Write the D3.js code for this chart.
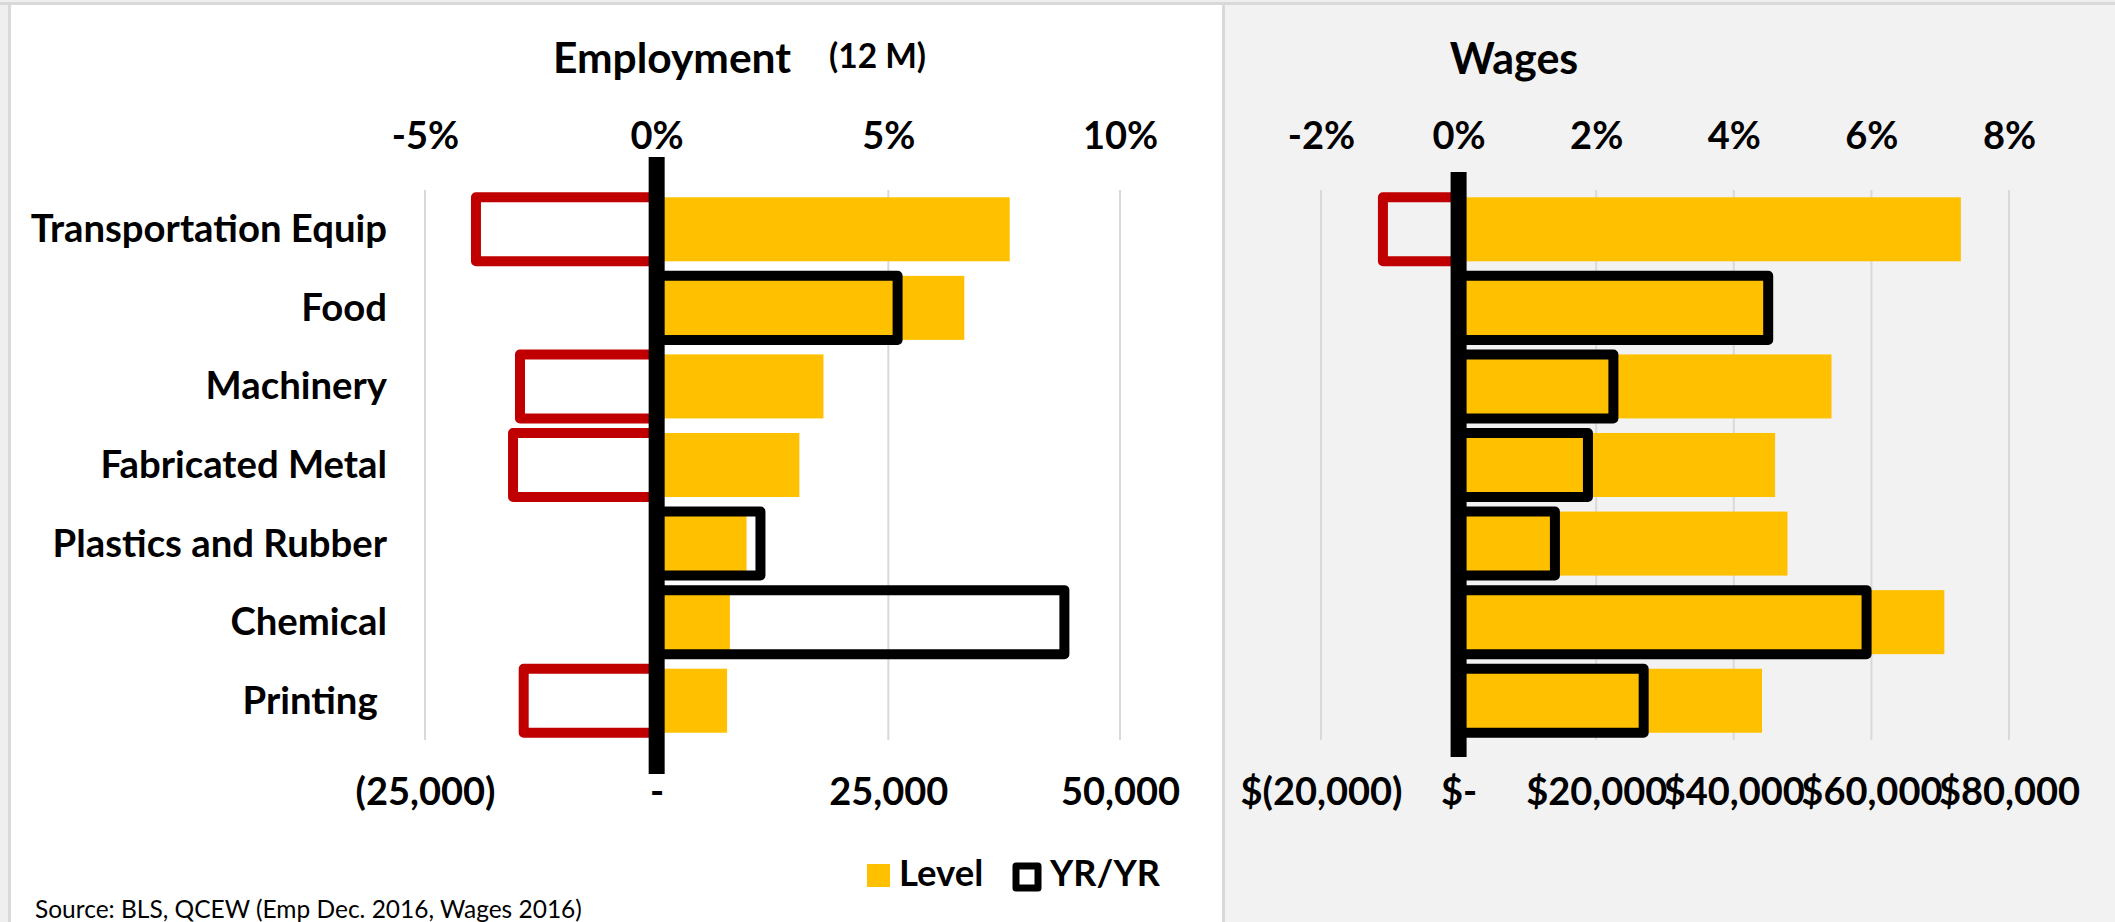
<!DOCTYPE html>
<html><head><meta charset="utf-8">
<script src="https://cdn.jsdelivr.net/npm/d3@7"></script>
<style>
html,body{margin:0;padding:0;background:#efefef;}
svg{display:block;}
text{font-family:Lato,"Open Sans",sans-serif;white-space:pre;}
</style></head>
<body>
<svg id="c" width="2115" height="922"></svg>
<script>
const categories = ["Transportation Equip","Food","Machinery","Fabricated Metal","Plastics and Rubber","Chemical","Printing "];
const empLevel = [38100, 33200, 18000, 15400, 9700, 7900, 7600];
const empYoY = [-0.039, 0.052, -0.0295, -0.031, 0.0224, 0.088, -0.0287];
const wageLevel = [73000, 45000, 54200, 46000, 47800, 70600, 44100];
const wageYoY = [-0.011, 0.045, 0.0225, 0.0188, 0.014, 0.0593, 0.0269];
const empPctTicks = [-0.05, 0, 0.05, 0.10];
const empLevelTicks = [-25000, 0, 25000, 50000];
const wagePctTicks = [-0.02, 0, 0.02, 0.04, 0.06, 0.08];
const wageLevelTicks = [-20000, 0, 20000, 40000, 60000, 80000];
const legendLabels = ["Level", "YR/YR"];
const titles = ["Employment", "(12 M)", "Wages"];
const sourceText = "Source: BLS, QCEW (Emp Dec. 2016, Wages 2016)";

const YELLOW = "#FFC000", RED = "#C00000", GRID = "#d9d9d9";
const svg = d3.select("#c");

// backgrounds
svg.append("rect").attr("x",0).attr("y",0).attr("width",2115).attr("height",922).attr("fill","#efefef");
svg.append("rect").attr("x",1224).attr("y",4).attr("width",891).attr("height",918).attr("fill","#f2f2f2");
svg.append("rect").attr("x",9.5).attr("y",3.5).attr("width",1214).attr("height",930).attr("fill","#ffffff")
  .attr("stroke","#d9d9d9").attr("stroke-width",3);
svg.append("line").attr("x1",1223.5).attr("x2",1223.5).attr("y1",3).attr("y2",922).attr("stroke","#d9d9d9").attr("stroke-width",3);
svg.append("line").attr("x1",0).attr("x2",2115).attr("y1",3.5).attr("y2",3.5).attr("stroke","#d9d9d9").attr("stroke-width",3);

const y = d3.scaleBand().domain(categories).range([190, 740]).paddingInner(0.185).paddingOuter(0.0925);

const pctFmt = v => (v < 0 ? "-" : "") + Math.round(Math.abs(v) * 100) + "%";
const numFmt = d3.format(",");
const empLevelFmt = v => v < 0 ? "(" + numFmt(-v) + ")" : (v === 0 ? "-" : numFmt(v));
const wageLevelFmt = v => v < 0 ? "$(" + numFmt(-v) + ")" : (v === 0 ? "$-" : "$" + numFmt(v));

function panel(cfg) {
  const g = svg.append("g");
  const xp = d3.scaleLinear().domain(cfg.pctDomain).range(cfg.range);
  const xl = d3.scaleLinear().domain(cfg.levelDomain).range(cfg.range);
  // gridlines
  g.append("g").selectAll("line").data(cfg.pctTicks).join("line")
    .attr("x1", d => xp(d)).attr("x2", d => xp(d)).attr("y1", 190).attr("y2", 740)
    .attr("stroke", GRID).attr("stroke-width", 2);
  // top axis
  const top = g.append("g").attr("transform", "translate(0,149)")
    .call(d3.axisTop(xp).tickValues(cfg.pctTicks).tickFormat(pctFmt).tickSize(0).tickPadding(0));
  top.select(".domain").remove();
  top.selectAll("text").attr("font-size", 38).attr("font-weight", 700).attr("fill", "#000")
    .attr("font-family", "Lato").attr("dy", 0);
  // bottom axis
  const bot = g.append("g").attr("transform", "translate(0,805)")
    .call(d3.axisBottom(xl).tickValues(cfg.levelTicks).tickFormat(cfg.levelFmt).tickSize(0).tickPadding(0));
  bot.select(".domain").remove();
  bot.selectAll("text").attr("font-size", 38).attr("font-weight", 700).attr("fill", "#000")
    .attr("font-family", "Lato").attr("dy", 0);
  // level bars
  g.append("g").selectAll("rect").data(cfg.level).join("rect")
    .attr("x", d => Math.min(xl(0), xl(d))).attr("width", d => Math.abs(xl(d) - xl(0)))
    .attr("y", (d, i) => y(categories[i])).attr("height", y.bandwidth())
    .attr("fill", YELLOW);
  // yoy bars
  g.append("g").selectAll("rect").data(cfg.yoy).join("rect")
    .attr("x", d => Math.min(xp(0), xp(d))).attr("width", d => Math.abs(xp(d) - xp(0)))
    .attr("y", (d, i) => y(categories[i])).attr("height", y.bandwidth())
    .attr("fill", "none").attr("stroke", d => d < 0 ? RED : "#000").attr("stroke-width", 10)
    .attr("stroke-linejoin", "round");
  // zero axis line
  g.append("line").attr("x1", xp(0)).attr("x2", xp(0)).attr("y1", cfg.zeroY[0]).attr("y2", cfg.zeroY[1])
    .attr("stroke", "#000").attr("stroke-width", 16);
  return xp;
}

panel({pctDomain: [-0.05, 0.10], levelDomain: [-25000, 50000], range: [425, 1120],
  pctTicks: empPctTicks, levelTicks: empLevelTicks, levelFmt: empLevelFmt,
  level: empLevel, yoy: empYoY, zeroY: [157, 774]});
panel({pctDomain: [-0.02, 0.08], levelDomain: [-20000, 80000], range: [1321, 2009],
  pctTicks: wagePctTicks, levelTicks: wageLevelTicks, levelFmt: wageLevelFmt,
  level: wageLevel, yoy: wageYoY, zeroY: [172, 757]});

// category labels
svg.append("g").selectAll("text").data(categories).join("text")
  .attr("x", 387).attr("y", d => y(d) + y.bandwidth() / 2 + 13)
  .attr("text-anchor", "end").attr("font-size", 38.3).attr("font-weight", 700).text(d => d);

// titles
svg.append("text").attr("x", 553).attr("y", 73).attr("font-size", 42.5).attr("font-weight", 700).text(titles[0]);
svg.append("text").attr("x", 829).attr("y", 68).attr("font-size", 33.5).attr("font-weight", 700).text(titles[1]);
svg.append("text").attr("x", 1514).attr("y", 74).attr("text-anchor", "middle").attr("font-size", 43).attr("font-weight", 700).text(titles[2]);

// legend
const lg = svg.append("g");
lg.append("rect").attr("x", 867).attr("y", 864).attr("width", 23).attr("height", 23).attr("fill", YELLOW);
lg.append("text").attr("x", 899).attr("y", 886).attr("font-size", 36.5).attr("font-weight", 700).text(legendLabels[0]);
lg.append("rect").attr("x", 1016).attr("y", 866).attr("width", 22).attr("height", 22).attr("fill", "none")
  .attr("stroke", "#000").attr("stroke-width", 7).attr("stroke-linejoin", "round");
lg.append("text").attr("x", 1050).attr("y", 886).attr("font-size", 36).attr("font-weight", 700).text(legendLabels[1]);

// source
svg.append("text").attr("x", 35).attr("y", 918).attr("font-size", 24.5).attr("font-weight", 400).text(sourceText);
</script>
</body></html>
